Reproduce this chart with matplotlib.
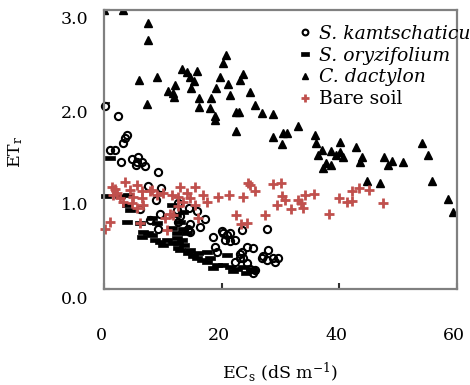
import matplotlib
matplotlib.use("Agg")
import matplotlib.pyplot as plt
from matplotlib.transforms import ScaledTranslation
from matplotlib.path import Path
import numpy as np

plt.rcParams['font.family'] = ['DejaVu Serif']
plt.rcParams['mathtext.fontset'] = 'dejavuserif'

# ---- data (ECs, ETr) ----
kam_x = [0.1, 2.4, 3.9, 3.6, 3.2, 1.0, 1.9, 2.9, 4.7, 5.8, 5.6, 6.4, 5.4, 7.0, 9.2, 7.5, 9.7,
         8.8, 6.1, 9.5, 7.8, 12.6, 12.4, 14.5, 15.8, 17.2, 12.6, 9.2, 14.6, 16.3, 14.6, 18.6,
         20.0, 20.9, 22.3, 18.9, 19.2, 24.3, 25.4, 23.1, 23.7, 22.3, 24.3, 25.4, 27.1, 27.7,
         23.4, 20.2, 21.4, 20.6, 23.4, 23.1, 27.9, 26.8, 27.7, 28.8, 29.6, 29.1, 24.8, 25.7,
         14.3, 12.9, 21.4]
kam_y = [1.97, 1.86, 1.66, 1.62, 1.57, 1.49, 1.49, 1.37, 1.40, 1.42, 1.37, 1.37, 1.33, 1.32,
         1.26, 1.11, 1.09, 0.96, 0.86, 0.81, 0.74, 0.92, 0.85, 0.87, 0.84, 0.75, 0.72, 0.65,
         0.70, 0.67, 0.61, 0.56, 0.62, 0.58, 0.53, 0.45, 0.40, 0.45, 0.44, 0.38, 0.33, 0.29,
         0.28, 0.17, 0.35, 0.65, 0.63, 0.60, 0.60, 0.53, 0.40, 0.33, 0.42, 0.33, 0.31, 0.33,
         0.33, 0.29, 0.22, 0.20, 0.65, 0.78, 0.52]

ory_x = [0.3, 1.0, 2.7, 4.1, 4.4, 3.9, 3.9, 6.1, 8.1, 9.0, 6.4, 7.5, 8.1, 8.7, 9.5, 10.7,
         10.1, 11.8, 12.6, 12.6, 12.4, 12.9, 14.1, 13.5, 14.6, 15.2, 15.8, 16.6, 17.5, 18.0,
         19.2, 20.3, 21.4, 22.6, 23.7, 25.1, 25.4, 20.9, 17.5, 16.0, 12.4, 13.2, 12.9, 6.7,
         11.6, 12.2, 13.4, 11.6, 13.6, 14.3, 18.5, 24.1, 21.9]
ory_y = [1.00, 1.41, 1.00, 1.01, 0.85, 0.90, 0.72, 0.71, 0.76, 0.71, 0.56, 0.60, 0.58, 0.53,
         0.51, 0.53, 0.47, 0.49, 0.49, 0.44, 0.55, 0.72, 0.60, 0.65, 0.42, 0.35, 0.33, 0.31,
         0.29, 0.33, 0.26, 0.26, 0.24, 0.22, 0.24, 0.22, 0.19, 0.37, 0.40, 0.39, 0.60, 0.53,
         0.42, 0.61, 0.90, 0.80, 0.83, 0.66, 0.47, 0.39, 0.23, 0.17, 0.19]

dac_x = [0.0, 3.2, 7.5, 7.5, 5.9, 9.0, 7.3, 13.2, 14.1, 15.8, 14.6, 15.3, 12.1, 10.8, 11.8,
         11.9, 14.8, 16.1, 16.1, 18.2, 18.0, 18.9, 18.9, 20.7, 20.2, 19.7, 19.0, 21.0, 21.4,
         23.7, 23.2, 24.8, 25.7, 26.8, 22.4, 22.9, 22.4, 28.8, 32.9, 28.8, 30.5, 31.1, 30.2,
         35.9, 36.0, 40.1, 54.1, 42.8, 43.9, 43.5, 37.0, 36.4, 38.6, 39.4, 40.1, 40.7, 37.7,
         37.3, 38.5, 47.6, 49.0, 48.2, 50.9, 55.1, 44.7, 46.9, 55.8, 58.5, 59.4]
dac_y = [3.00, 3.00, 2.86, 2.68, 2.25, 2.28, 1.99, 2.37, 2.33, 2.34, 2.28, 2.24, 2.19, 2.13,
         2.11, 2.06, 2.16, 2.05, 1.96, 2.05, 1.95, 1.86, 1.82, 2.52, 2.43, 2.28, 2.16, 2.20,
         2.09, 2.31, 2.25, 2.12, 1.98, 1.89, 1.90, 1.90, 1.70, 1.88, 1.75, 1.63, 1.68, 1.68,
         1.56, 1.66, 1.57, 1.58, 1.57, 1.53, 1.42, 1.37, 1.49, 1.44, 1.48, 1.44, 1.47, 1.42,
         1.35, 1.30, 1.33, 1.42, 1.38, 1.33, 1.37, 1.44, 1.16, 1.14, 1.16, 0.97, 0.83]

bare_x = [0.2, 1.0, 1.3, 1.9, 3.6, 1.6, 2.2, 2.7, 3.3, 4.4, 5.6, 5.0, 4.7, 6.4, 6.4, 6.7,
          7.8, 9.0, 10.1, 11.5, 12.9, 12.6, 13.5, 14.1, 14.6, 15.5, 16.9, 17.5, 12.6, 11.2,
          10.4, 11.8, 10.7, 6.1, 5.6, 15.5, 16.0, 19.4, 21.2, 23.7, 24.5, 24.8, 25.7, 28.8,
          30.1, 30.2, 30.8, 29.4, 31.8, 33.0, 33.5, 33.9, 34.2, 35.7, 22.5, 27.4, 23.3, 24.3,
          38.3, 40.0, 41.3, 42.1, 42.1, 43.3, 45.0, 47.5, 8.1]
bare_y = [0.65, 0.72, 1.10, 1.08, 1.15, 1.01, 1.03, 0.98, 0.94, 1.06, 1.12, 0.99, 0.92, 1.05,
          0.98, 0.90, 1.05, 1.01, 1.03, 1.01, 1.10, 0.99, 0.94, 1.03, 0.98, 1.10, 1.01, 0.94,
          0.89, 0.81, 0.76, 0.80, 0.63, 0.71, 0.87, 0.90, 0.76, 0.99, 1.01, 0.99, 1.14, 1.12,
          1.05, 1.13, 1.14, 1.00, 0.96, 0.90, 0.86, 0.96, 0.93, 0.87, 1.01, 1.02, 0.80, 0.80,
          0.70, 0.71, 0.81, 0.98, 0.94, 0.95, 1.05, 1.09, 1.06, 0.92, 1.06]

labels = ["S. kamtschaticum", "S. oryzifolium", "C. dactylon", "Bare soil"]
x_ticks = [0, 20, 40, 60]
y_ticks = [0.0, 1.0, 2.0, 3.0]

fig = plt.figure(figsize=(4.70, 3.85), dpi=100)
ax = fig.add_axes([104/470, 1-289/385, (457-104)/470, (289-10)/385])

dash = Path([(-1, -0.42), (1, -0.42), (1, 0.42), (-1, 0.42), (-1, -0.42)],
            [Path.MOVETO, Path.LINETO, Path.LINETO, Path.LINETO, Path.CLOSEPOLY])

red = '#C0504D'
ax.plot(kam_x, kam_y, 'o', ms=5.2, mfc='none', mec='black', mew=1.5, label=labels[0], clip_on=False)
ax.plot(ory_x, ory_y, ls='none', marker=dash, ms=6.5, mfc='black', mec='black', mew=0.5, label=labels[1], clip_on=False)
ax.plot(dac_x, dac_y, '^', ms=5.4, color='black', label=labels[2], clip_on=True)
ax.plot(bare_x, bare_y, '+', ms=7, mew=2, color=red, label=labels[3], clip_on=False)

ax.set_xlim(0, 60)
ax.set_ylim(0, 3.0)
ax.set_xticks(x_ticks)
ax.set_yticks(y_ticks)
ax.set_yticklabels([f"{v:.1f}" for v in y_ticks])

for s in ax.spines.values():
    s.set_color('#808080')
    s.set_linewidth(1.6)
    s.set_zorder(3)

ax.tick_params(axis='both', direction='in', length=4, width=1.5, color='#303030',
               labelsize=12.5)
ax.tick_params(axis='x', pad=27)
ax.tick_params(axis='y', pad=11)

for lab in ax.get_yticklabels():
    lab.set_transform(lab.get_transform() + ScaledTranslation(0, -8/100, fig.dpi_scale_trans))
for lab in ax.get_xticklabels():
    lab.set_transform(lab.get_transform() + ScaledTranslation(-3/100, 0, fig.dpi_scale_trans))

ax.set_xlabel(r"EC$_\mathrm{s}$ (dS m$^{\mathrm{-1}}$)", fontsize=12.5)
ax.xaxis.set_label_coords(0.5, -0.255)
ax.set_ylabel(r"ET$_\mathrm{r}$", fontsize=12.5)
ax.yaxis.set_label_coords(-0.225, 0.49)

leg = ax.legend(loc='upper left', bbox_to_anchor=((298-104)/353, (289-25)/279),
                frameon=False, fontsize=13.5, handlelength=0.7, handletextpad=0.4,
                borderpad=0, borderaxespad=0, labelspacing=0.2, markerscale=0.8)
for t in leg.get_texts()[:3]:
    t.set_fontstyle('italic')

fig.savefig("out.png", dpi=100)
